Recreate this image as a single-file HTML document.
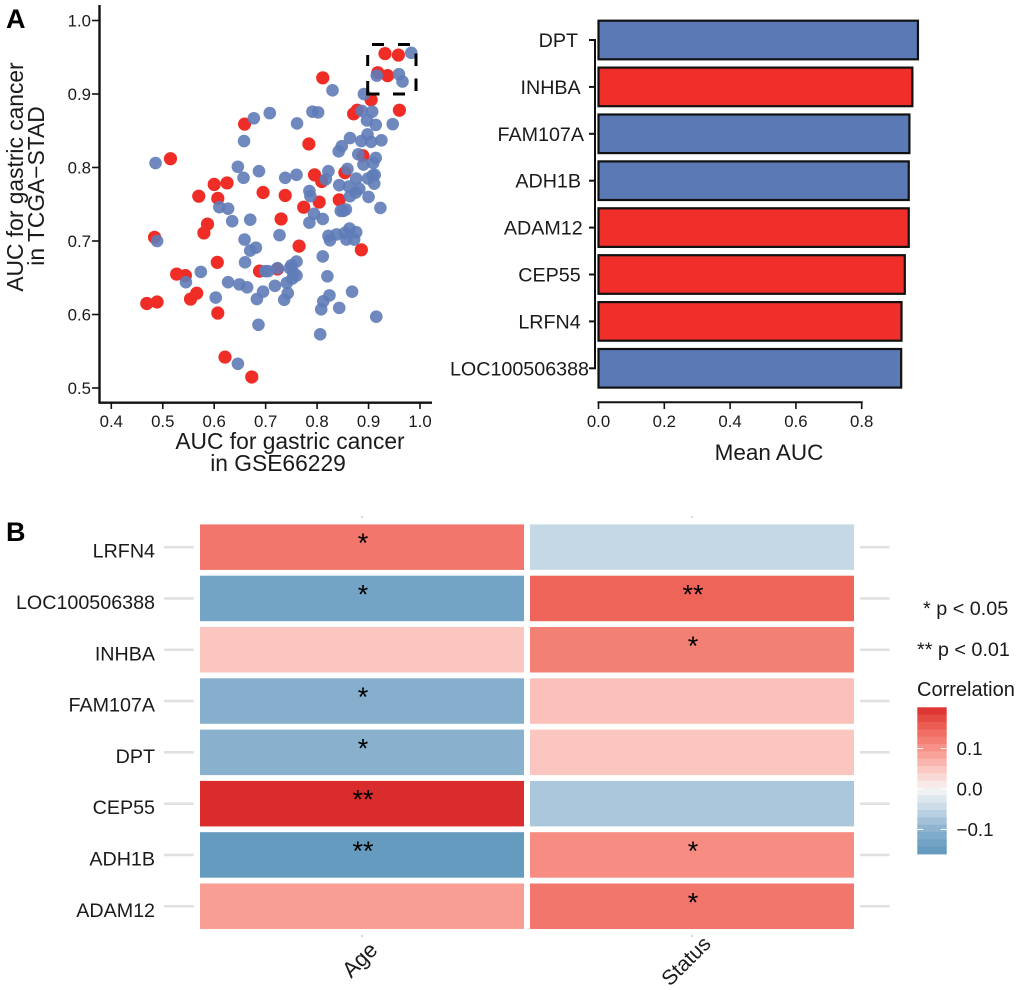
<!DOCTYPE html>
<html lang="en">
<head>
<meta charset="utf-8">
<title>AUC scatter, mean AUC bars and correlation heatmap</title>
<style>
html,body{margin:0;padding:0;background:#fff;}
body{width:1020px;height:990px;overflow:hidden;}
svg{display:block;}
text{font-family:"Liberation Sans",sans-serif;fill:#1a1a1a;}
</style>
</head>
<body>
<svg id="fig" xmlns="http://www.w3.org/2000/svg" width="1020" height="990" viewBox="0 0 1020 990">
  <text x="6" y="28" font-size="27" font-weight="bold" style="fill:#000">A</text>
  <text x="6" y="541" font-size="27" font-weight="bold" style="fill:#000">B</text>
  <g id="scatter"></g>
  <path d="M372 44.5H384M398 44.5H410M367.7 55V66M367.7 81V94H379.5M393 94H405M416 53.5V66M416 78.5V91" fill="none" stroke="#000" stroke-width="3"/>
  <text x="290" y="449" font-size="22.8" text-anchor="middle">AUC for gastric cancer</text>
  <text x="278" y="471" font-size="22.8" text-anchor="middle">in GSE66229</text>
  <text transform="translate(23 177) rotate(-90)" font-size="22.8" text-anchor="middle">AUC for gastric cancer</text>
  <text transform="translate(44 186) rotate(-90)" font-size="22.8" text-anchor="middle">in TCGA−STAD</text>
  <g id="bars"></g>
  <text x="769" y="460" font-size="22.5" text-anchor="middle">Mean AUC</text>
  <g id="heat"></g>
  <text transform="translate(365 965) rotate(-45)" font-size="22" text-anchor="middle">Age</text>
  <text transform="translate(691 966) rotate(-45)" font-size="21" text-anchor="middle">Status</text>
  <text x="923" y="615" font-size="19.8">* p &lt; 0.05</text>
  <text x="917" y="656" font-size="19.8">** p &lt; 0.01</text>
  <text x="917" y="696" font-size="20">Correlation</text>
  <g id="legend"></g>
</svg>
<script>
// ---- Scatter data (AUC values) ----
const redX = [.932,.958,.918,.937,.811,.905,.960,.878,.871,.659,.784,.889,.515,.795,.854,.809,.600,.625,.570,.607,.695,.738,.843,.804,.774,.730,.587,.580,.484,.765,.886,.606,.688,.723,.527,.544,.566,.554,.469,.489,.607,.621,.673];
const redY = [.955,.953,.929,.925,.922,.892,.878,.878,.873,.859,.832,.816,.812,.790,.793,.781,.777,.779,.761,.758,.766,.762,.756,.753,.746,.730,.723,.711,.705,.693,.688,.671,.659,.662,.655,.653,.629,.621,.615,.617,.602,.542,.515];
const blueX = [.983,.959,.966,.916,.830,.891,.708,.677,.791,.802,.887,.907,.897,.914,.947,.761,.658,.898,.864,.886,.905,.925,.848,.842,.880,.914,.909,.890,.486,.646,.687,.657,.738,.760,.822,.817,.859,.876,.899,.912,.908,.911,.843,.862,.882,.875,.864,.785,.787,.900,.923,.610,.627,.635,.670,.794,.811,.785,.851,.846,.856,.727,.659,.822,.825,.838,.854,.863,.876,.857,.872,.489,.681,.670,.660,.811,.760,.750,.747,.754,.760,.699,.705,.723,.574,.820,.545,.627,.649,.664,.718,.741,.752,.743,.695,.683,.736,.603,.824,.812,.808,.843,.868,.915,.686,.806,.646];
const blueY = [.956,.927,.917,.925,.905,.900,.874,.867,.876,.875,.877,.876,.864,.858,.859,.860,.836,.845,.840,.836,.835,.837,.829,.822,.818,.813,.806,.804,.806,.801,.795,.786,.786,.790,.795,.784,.798,.785,.785,.790,.789,.778,.776,.774,.771,.766,.761,.768,.761,.760,.745,.746,.744,.727,.729,.737,.730,.725,.741,.741,.743,.708,.702,.707,.701,.709,.711,.717,.712,.702,.702,.700,.691,.687,.671,.679,.672,.667,.663,.657,.653,.659,.659,.663,.658,.652,.644,.644,.641,.637,.639,.643,.649,.629,.631,.621,.620,.623,.626,.618,.607,.609,.631,.597,.586,.573,.533];
const scatterXTicks = [0.4,0.5,0.6,0.7,0.8,0.9,1.0];
const scatterYTicks = [0.5,0.6,0.7,0.8,0.9,1.0];

// ---- Bar chart data ----
const barGenes = ["DPT","INHBA","FAM107A","ADH1B","ADAM12","CEP55","LRFN4","LOC100506388"];
const barValues = [0.971,0.954,0.945,0.943,0.943,0.931,0.921,0.920];
const barGroups = ["blue","red","blue","blue","red","red","red","blue"];
const barXTicks = [0.0,0.2,0.4,0.6,0.8];

// ---- Heatmap data ----
const heatGenes = ["LRFN4","LOC100506388","INHBA","FAM107A","DPT","CEP55","ADH1B","ADAM12"];
const heatColumns = ["Age","Status"];
const ageValues = [0.130,-0.132,0.050,-0.106,-0.102,0.203,-0.152,0.088];
const statusValues = [-0.050,0.150,0.120,0.056,0.050,-0.072,0.106,0.130];
const ageStars = ["*","*","","*","*","**","**",""];
const statusStars = ["","**","*","","","","*","*"];
const legendTicks = [0.1,0.0,-0.1];

const NS = "http://www.w3.org/2000/svg";
function mk(parent, tag, attrs, txt) {
  const e = document.createElementNS(NS, tag);
  for (const k in attrs) e.setAttribute(k, attrs[k]);
  if (txt !== undefined) e.textContent = txt;
  parent.appendChild(e);
  return e;
}
const INK = "#111";

// ---- Scatter ----
const sx = v => 111.3 + (v - 0.4) * 514.5;
const sy = v => 388 + (0.5 - v) * 735;
const sc = document.getElementById("scatter");
const sAxis = mk(sc, "path", {d:"M99.5 5V402.7H432", fill:"none", stroke:INK, "stroke-width":2.4});


scatterXTicks.forEach(t => {
  const tk = mk(sc, "line", {x1:sx(t), x2:sx(t), y1:402.7, y2:409, stroke:INK, "stroke-width":1.6});
  
  
  const lb = mk(sc, "text", {x:sx(t), y:427, "font-size":16.8, "text-anchor":"middle"}, t.toFixed(1));
  
  
});
scatterYTicks.forEach(t => {
  const tk = mk(sc, "line", {x1:92, x2:99.5, y1:sy(t), y2:sy(t), stroke:INK, "stroke-width":1.6});
  
  
  const lb = mk(sc, "text", {x:91, y:sy(t)+6, "font-size":16.8, "text-anchor":"end"}, t.toFixed(1));
  
  
});
redX.forEach((v, i) => {
  const c = mk(sc, "circle", {cx:sx(v), cy:sy(redY[i]), r:6.6, fill:"#f02c26"});
  
  
});
blueX.forEach((v, i) => {
  const c = mk(sc, "circle", {cx:sx(v), cy:sy(blueY[i]), r:6.3, fill:"#5f7cb8", "fill-opacity":0.9});
  
  
});

// ---- Bars ----
const bx = v => 598.5 + v * 329;
const by = i => 40 + i * 46.9;
const barLabelEnd = [578,580.7,584,581,582.7,580.7,580.7,589];
const barFill = {blue:"#5b79b5", red:"#f02e2a"};
const bg = document.getElementById("bars");
barGenes.forEach((g, i) => {
  const r = mk(bg, "rect", {x:bx(0), y:by(i)-19.3, width:bx(barValues[i])-bx(0), height:38.6, fill:barFill[barGroups[i]], stroke:INK, "stroke-width":2.2});
  
  
  const tk = mk(bg, "line", {x1:589, x2:595, y1:by(i), y2:by(i), stroke:INK, "stroke-width":2});
  
  
  const lb = mk(bg, "text", {x:barLabelEnd[i], y:by(i)+7, "font-size":19.7, "text-anchor":"end"}, g);
  
  
});
const bAxisY = mk(bg, "line", {x1:595, x2:595, y1:by(0)-1, y2:by(7)+1, stroke:INK, "stroke-width":2});


const bAxisX = mk(bg, "line", {x1:bx(0)-1, x2:bx(0.8)+1, y1:402.3, y2:402.3, stroke:INK, "stroke-width":2});


barXTicks.forEach(t => {
  const tk = mk(bg, "line", {x1:bx(t), x2:bx(t), y1:402.3, y2:409, stroke:INK, "stroke-width":1.6});
  
  
  const lb = mk(bg, "text", {x:bx(t), y:427, "font-size":16.8, "text-anchor":"middle"}, t.toFixed(1));
  
  
});

// ---- Colour scale ----
const stopV = [-0.161,-0.100,-0.050,0,0.050,0.100,0.150,0.203];
const stopC = [[93,151,188],[139,178,207],[197,216,230],[245,245,245],[252,198,192],[247,146,136],[238,100,88],[218,44,44]];
function colour(v) {
  const x = Math.max(stopV[0], Math.min(stopV[stopV.length-1], v));
  let i = 0;
  while (i < stopV.length-2 && x > stopV[i+1]) i++;
  const f = (x - stopV[i]) / (stopV[i+1] - stopV[i]);
  const c = stopC[i].map((a, k) => Math.round(a + (stopC[i+1][k] - a) * f));
  return "rgb(" + c.join(",") + ")";
}

// ---- Heatmap ----
const colX = [200, 530];
const colW = 324;
const rowY = i => 524.4 + i * 51.3;
const rowH = 45.5;
const hg = document.getElementById("heat");
const colVals = [ageValues, statusValues];
const colStars = [ageStars, statusStars];
heatGenes.forEach((g, i) => {
  const cy = rowY(i) + rowH/2;
  const lb = mk(hg, "text", {x:155, y:cy+10.5, "font-size":19.7, "text-anchor":"end"}, g);
  
  
  const tl = mk(hg, "line", {x1:164, x2:193.7, y1:cy, y2:cy, stroke:"#e0e0e0", "stroke-width":2.6});
  
  
  const tr = mk(hg, "line", {x1:860, x2:889.5, y1:cy, y2:cy, stroke:"#e0e0e0", "stroke-width":2.6});
  
  
  heatColumns.forEach((col, j) => {
    const cell = mk(hg, "rect", {x:colX[j], y:rowY(i), width:colW, height:rowH, fill:colour(colVals[j][i])});
    
    
    if (colStars[j][i]) {
      const st = mk(hg, "text", {x:colX[j]+colW/2+1, y:cy+5, "font-size":27, "text-anchor":"middle"}, colStars[j][i]);
      st.style.fill = "#000";
      
      
    }
  });
});
colX.forEach(x => {
  [517, 936].forEach(y => {
    const d = mk(hg, "rect", {x:x+colW/2-1, y:y-1, width:2, height:2, fill:"#d8d8d8"});
    
    
  });
});

// ---- Legend ----
const ly = v => 789 - v * 404;
const lg = document.getElementById("legend");
const bins = 20;
const legTop = 707.3, legBottom = 854;
for (let i = 0; i < bins; i++) {
  const y0 = legTop + (legBottom - legTop) * i / bins;
  const y1 = legTop + (legBottom - legTop) * (i + 1) / bins;
  const v = (789 - (y0 + y1) / 2) / 404;
  const b = mk(lg, "rect", {x:917.3, y:y0, width:29.4, height:y1-y0+0.4, fill:colour(v)});
  
  
}
legendTicks.forEach(t => {
  const y = ly(t);
  const a = mk(lg, "line", {x1:917.3, x2:923.3, y1:y, y2:y, stroke:"#fff", "stroke-width":1});
  
  
  const c = mk(lg, "line", {x1:940.7, x2:946.7, y1:y, y2:y, stroke:"#fff", "stroke-width":1});
  
  
  const lb = mk(lg, "text", {x:956.5, y:y+6.5, "font-size":18.8}, (t < 0 ? "−" : "") + Math.abs(t).toFixed(1));
  
  
});
</script>
</body>
</html>
